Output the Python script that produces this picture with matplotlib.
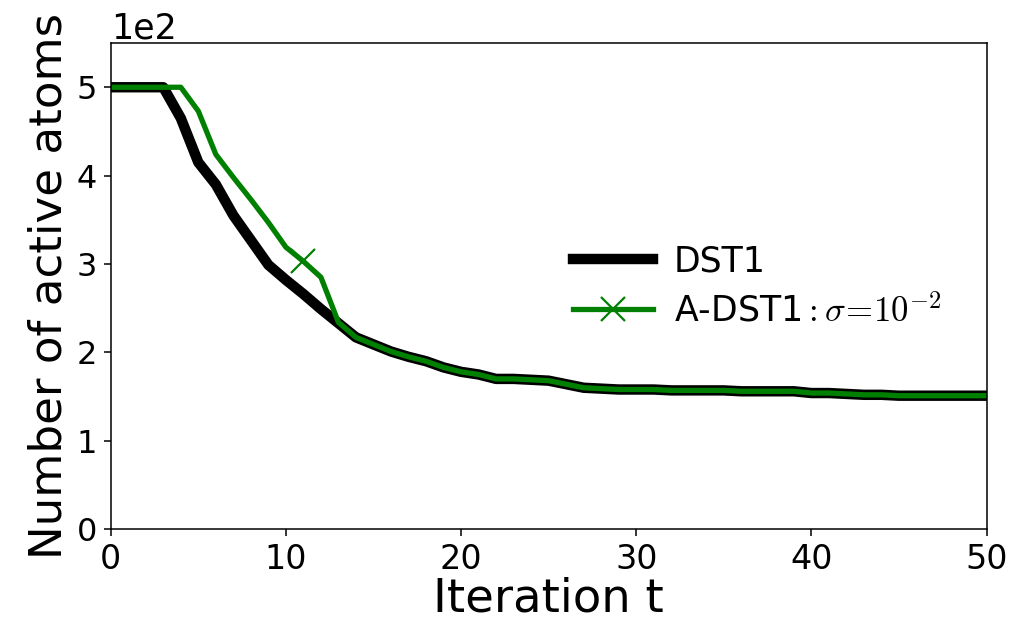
import numpy as np
import matplotlib
matplotlib.use('Agg')
import matplotlib.pyplot as plt

plt.rcParams['mathtext.fontset'] = 'cm'

# iteration index
t = np.arange(0, 51)

# number of active atoms, DST1
dst1 = [500, 500, 500, 500, 465, 415, 390, 355, 327, 299,
        282, 266, 249, 233, 217, 209, 201, 195, 190, 183,
        178, 175, 170, 170, 169, 168, 164, 160, 159, 158,
        158, 158, 157, 157, 157, 157, 156, 156, 156, 156,
        154, 154, 153, 152, 152, 151, 151, 151, 151, 151, 151]

# A-DST1, sigma = 1e-2
adst1 = [500, 500, 500, 500, 500, 473, 424, 398, 373, 347,
         319, 303, 285, 234, 217, 209, 201, 195, 190, 183,
         178, 175, 170, 170, 169, 168, 164, 160, 159, 158,
         158, 158, 157, 157, 157, 157, 156, 156, 156, 156,
         154, 154, 153, 152, 152, 151, 151, 151, 151, 151, 151]

fig = plt.figure(figsize=(10.16, 6.24), dpi=100)
ax = fig.add_axes([0.109, 0.152, 0.862, 0.779])

ax.plot(t, dst1, color='black', linewidth=7.5, label='DST1')
ax.plot(t, adst1, color='green', linewidth=3.8, marker='x', markevery=[11],
        markersize=17, markeredgewidth=1.6, label=r'A-DST1$:\sigma\!=\!10^{-2}$')

ax.set_xlim(0, 50)
ax.set_ylim(0, 550)
ax.ticklabel_format(axis='y', style='sci', scilimits=(0, 0))
ax.yaxis.get_offset_text().set_fontsize(25)
ax.tick_params(axis='x', labelsize=24, length=5, width=1.1, pad=5)
ax.tick_params(axis='y', labelsize=23, length=5, width=1.1, pad=5)
for s in ax.spines.values():
    s.set_linewidth(1.1)
ax.set_xlabel('Iteration t', fontsize=33.5, labelpad=0)
ax.set_ylabel('Number of active atoms', fontsize=32.5, labelpad=4)

ax.legend(loc='center left', bbox_to_anchor=(0.492, 0.5), frameon=False,
          fontsize=25, handlelength=2.3, handletextpad=0.6, labelspacing=0.45)

fig.savefig('out.png', dpi=100)
